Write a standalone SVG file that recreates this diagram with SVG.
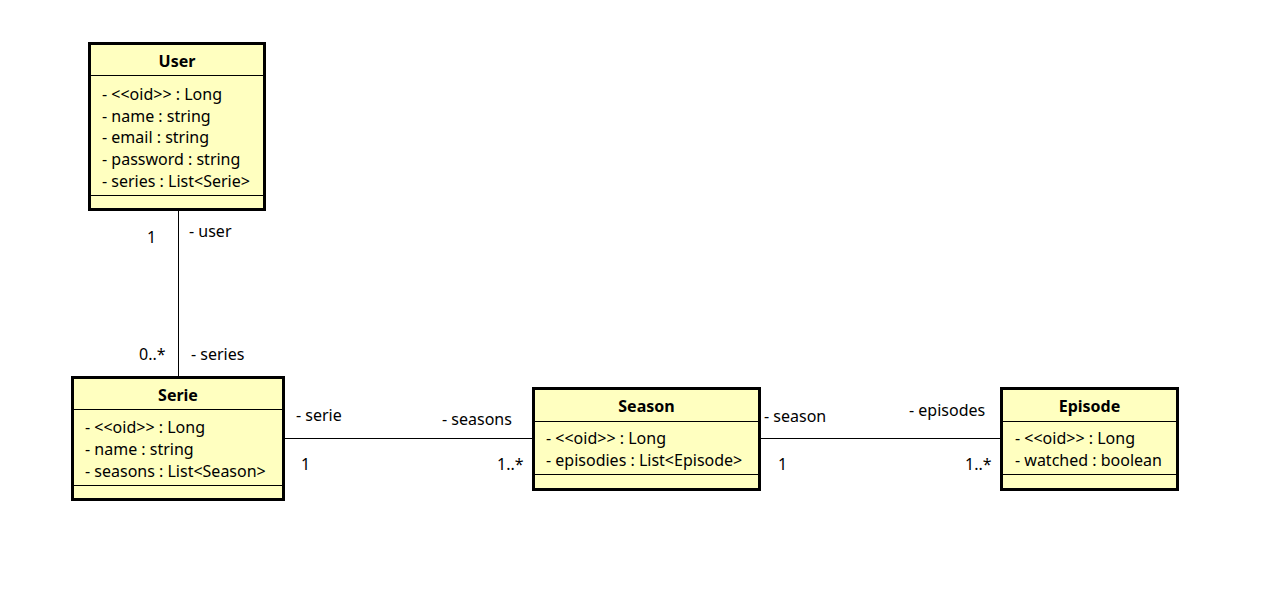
<svg xmlns="http://www.w3.org/2000/svg" width="1278" height="595" viewBox="0 0 1278 595">
<style>
.box{fill:#ffffc0;stroke:#000;stroke-width:3}
.sep{stroke:#000;stroke-width:1}
.t{font-family:"Noto Sans",sans-serif;font-size:16px;fill:#000}
.h{font-family:"Noto Sans",sans-serif;font-size:16px;font-weight:bold;fill:#000;text-anchor:middle}
.l{font-family:"Noto Sans",sans-serif;font-size:16px;fill:#000}
.c{stroke:#000;stroke-width:1;fill:none}
</style>
<rect width="1278" height="595" fill="#fff"/>
<g id="connectors">
<line class="c" x1="178.5" y1="210" x2="178.5" y2="376"/>
<line class="c" x1="284" y1="438.5" x2="533" y2="438.5"/>
<line class="c" x1="760" y1="438.5" x2="1001" y2="438.5"/>
<text class="l" x="147" y="243">1</text>
<text class="l" x="189" y="237">- user</text>
<text class="l" x="139" y="360">0..*</text>
<text class="l" x="191" y="360">- series</text>
<text class="l" x="296" y="421">- serie</text>
<text class="l" x="301" y="470">1</text>
<text class="l" x="442" y="425">- seasons</text>
<text class="l" x="497" y="470">1..*</text>
<text class="l" x="764" y="422">- season</text>
<text class="l" x="778" y="470">1</text>
<text class="l" x="909" y="416">- episodes</text>
<text class="l" x="965" y="470">1..*</text>
</g>
<g id="User">
<rect class="box" x="89.5" y="43.5" width="175" height="166"/>
<line class="sep" x1="89" y1="75.5" x2="265" y2="75.5"/>
<line class="sep" x1="89" y1="195.5" x2="265" y2="195.5"/>
<text class="h" x="177" y="67">User</text>
<text class="t" x="102" y="100">- &lt;&lt;oid&gt;&gt; : Long</text>
<text class="t" x="102" y="122">- name : string</text>
<text class="t" x="102" y="143">- email : string</text>
<text class="t" x="102" y="165">- password : string</text>
<text class="t" x="102" y="187">- series : List&lt;Serie&gt;</text>
</g>
<g id="Serie">
<rect class="box" x="72.5" y="377.5" width="211" height="122"/>
<line class="sep" x1="72" y1="409.5" x2="284" y2="409.5"/>
<line class="sep" x1="72" y1="485.5" x2="284" y2="485.5"/>
<text class="h" x="178" y="401">Serie</text>
<text class="t" x="85" y="433">- &lt;&lt;oid&gt;&gt; : Long</text>
<text class="t" x="85" y="455">- name : string</text>
<text class="t" x="85" y="477">- seasons : List&lt;Season&gt;</text>
</g>
<g id="Season">
<rect class="box" x="533.5" y="388.5" width="226" height="101"/>
<line class="sep" x1="533" y1="421.5" x2="760" y2="421.5"/>
<line class="sep" x1="533" y1="474.5" x2="760" y2="474.5"/>
<text class="h" x="646.5" y="412">Season</text>
<text class="t" x="546" y="444">- &lt;&lt;oid&gt;&gt; : Long</text>
<text class="t" x="546" y="466">- episodies : List&lt;Episode&gt;</text>
</g>
<g id="Episode">
<rect class="box" x="1001.5" y="388.5" width="176" height="101"/>
<line class="sep" x1="1001" y1="421.5" x2="1178" y2="421.5"/>
<line class="sep" x1="1001" y1="474.5" x2="1178" y2="474.5"/>
<text class="h" x="1089.5" y="412">Episode</text>
<text class="t" x="1015" y="444">- &lt;&lt;oid&gt;&gt; : Long</text>
<text class="t" x="1015" y="466">- watched : boolean</text>
</g>
</svg>
